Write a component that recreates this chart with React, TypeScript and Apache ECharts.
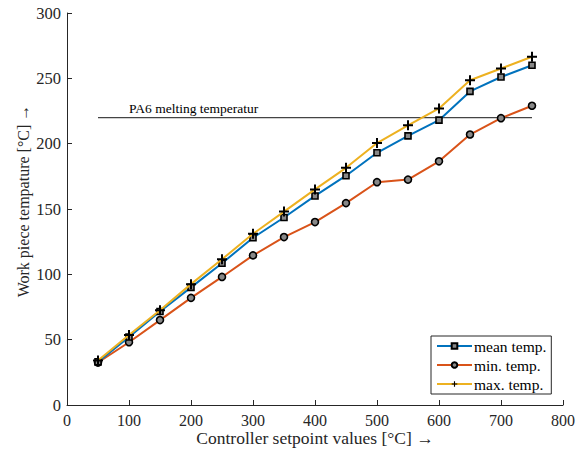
import React, { useEffect, useRef } from "react";
import * as echarts from "echarts";

const setpoints = [50, 100, 150, 200, 250, 300, 350, 400, 450, 500, 550, 600, 650, 700, 750];
const meanTemp = [33, 52, 71.5, 90, 108.5, 128, 143.5, 160, 175.5, 193, 206, 218, 240, 251, 260];
const minTemp = [32.5, 48, 65, 82, 98, 114.5, 128.5, 140, 154.5, 170.5, 172.5, 186.5, 207, 219.5, 229];
const maxTemp = [34, 53.5, 72.5, 92.5, 111.5, 131, 148, 165, 181.5, 200.5, 214, 227, 248.5, 257.5, 266.5];
const meltLine = { from: 50, to: 750, value: 220, label: "PA6 melting temperatur" };

const FONT = "Liberation Serif";
const AX = "#262626";
const PLUS = "path://M4,0h2v4h4v2h-4v4h-2v-4h-4v-2h4z";

export default function App() {
  const ref = useRef<HTMLDivElement>(null);
  useEffect(() => {
    const chart = echarts.init(ref.current!, null, { renderer: "svg" });
    const pts = (arr: number[]) => setpoints.map((x, i) => [x, arr[i]]);
    const markerStyle = { borderColor: "#000", borderWidth: 1.6 };
    chart.setOption({
      animation: false,
      textStyle: { fontFamily: FONT },
      grid: { left: 67, right: 19, top: 13, bottom: 47, outerBoundsMode: "none", containLabel: false },
      legend: {
        data: ["mean temp.", "min. temp.", "max. temp."],
        orient: "vertical",
        left: 431,
        top: 336,
        padding: [2, 5, 2, 5],
        itemGap: 3,
        itemWidth: 35,
        itemHeight: 7,
        borderColor: AX,
        borderWidth: 1,
        backgroundColor: "#fff",
        textStyle: { fontFamily: FONT, fontSize: 15.5, color: "#000", padding: [0, 0, 0, -3] },
      },
      xAxis: {
        type: "value",
        min: 0,
        max: 800,
        interval: 100,
        name: "Controller setpoint values [°C] →",
        nameLocation: "middle",
        nameGap: 23.5,
        nameMoveOverlap: false,
        nameTextStyle: { fontFamily: FONT, fontSize: 17.5, color: AX },
        axisLine: { show: true, lineStyle: { color: AX, width: 1 } },
        axisTick: { show: true, inside: true, length: 5, lineStyle: { color: AX } },
        axisLabel: { fontFamily: FONT, fontSize: 16, color: AX, margin: 7 },
        splitLine: { show: false },
      },
      yAxis: {
        type: "value",
        min: 0,
        max: 300,
        interval: 50,
        name: "Work piece tempature [°C] →",
        nameLocation: "middle",
        nameGap: 36,
        nameMoveOverlap: false,
        nameTextStyle: { fontFamily: FONT, fontSize: 16, color: AX, padding: [0, 0, 0, 16] },
        axisLine: { show: true, lineStyle: { color: AX, width: 1 } },
        axisTick: { show: true, inside: true, length: 5, lineStyle: { color: AX } },
        axisLabel: { fontFamily: FONT, fontSize: 16.5, color: AX, margin: 6 },
        splitLine: { show: false },
      },
      series: [
        {
          name: "melt",
          type: "line",
          data: [
            {
              value: [meltLine.from, meltLine.value],
              label: {
                show: true,
                formatter: meltLine.label,
                position: "top",
                align: "left",
                offset: [31, 3],
                fontFamily: FONT,
                fontSize: 13.5,
                color: "#000",
              },
            },
            [meltLine.to, meltLine.value],
          ],
          showSymbol: true,
          symbol: "circle",
          symbolSize: 1,
          itemStyle: { color: "rgba(0,0,0,0)" },
          lineStyle: { color: "#444", width: 1.2 },
          silent: true,
          z: 1,
        },
        {
          name: "mean temp.",
          type: "line",
          data: pts(meanTemp),
          symbol: "rect",
          symbolSize: 6,
          color: "#0072BD",
          lineStyle: { color: "#0072BD", width: 2 },
          itemStyle: { color: "#888", ...markerStyle },
          z: 3,
        },
        {
          name: "min. temp.",
          type: "line",
          data: pts(minTemp),
          symbol: "circle",
          symbolSize: 7,
          color: "#D95319",
          lineStyle: { color: "#D95319", width: 2 },
          itemStyle: { color: "#888", ...markerStyle },
          z: 2,
        },
        {
          name: "max. temp.",
          type: "line",
          data: pts(maxTemp),
          symbol: PLUS,
          symbolSize: 10,
          color: "#EDB120",
          lineStyle: { color: "#EDB120", width: 2 },
          itemStyle: { color: "#000", borderWidth: 0 },
          z: 4,
        },
      ],
    });
    return () => chart.dispose();
  }, []);
  return <div ref={ref} style={{ position: "absolute", left: 0, top: 0, width: 582, height: 452 }} />;
}
